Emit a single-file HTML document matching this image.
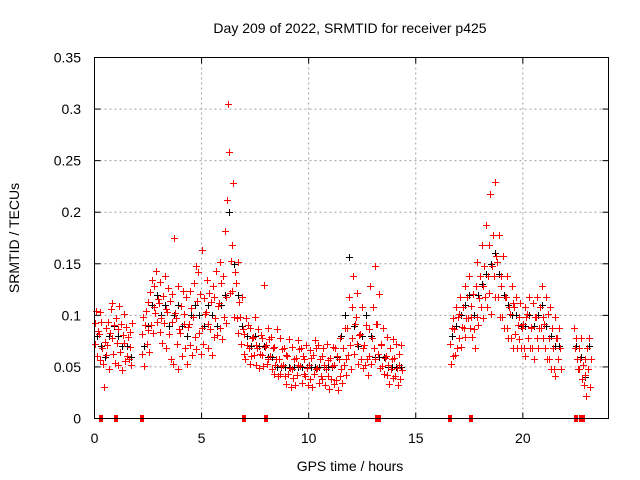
<!DOCTYPE html>
<html><head><meta charset="utf-8"><style>
html,body{margin:0;padding:0;background:#fff;}
svg{display:block;font-family:"Liberation Sans",sans-serif;}
</style></head><body>
<svg id="chart" width="640" height="480">
<rect width="640" height="480" fill="#fff"/>
<text x="350" y="33" font-size="14" text-anchor="middle">Day 209 of 2022, SRMTID for receiver p425</text>
<text x="0" y="0" font-size="14" text-anchor="middle" transform="translate(19,238) rotate(-90)">SRMTID / TECUs</text>
<text x="350" y="471" font-size="14" text-anchor="middle">GPS time / hours</text>
<g id="grid"></g><g id="ticks"></g><g id="marks"></g>
<rect x="94.5" y="57.5" width="514" height="361" fill="none" stroke="#000" stroke-width="1"/>
</svg>
<script>
const xTicks=[0,5,10,15,20];
const yTicks=[0,0.05,0.1,0.15,0.2,0.25,0.3,0.35];
const yTickLabels=["0","0.05","0.1","0.15","0.2","0.25","0.3","0.35"];
const hours=[0,0.2,0.4,0.6,0.8,1.0,1.2,1.4,1.6,
2.2,2.4,2.6,2.8,3.0,3.2,3.4,3.6,3.8,4.0,4.2,4.4,4.6,4.8,5.0,5.2,5.4,5.6,5.8,6.0,6.2,6.4,6.6,6.8,7.0,7.2,7.4,7.6,7.8,8.0,8.2,8.4,8.6,8.8,9.0,9.2,9.4,9.6,9.8,10.0,10.2,10.4,10.6,10.8,11.0,11.2,11.4,11.6,11.8,12.0,12.2,12.4,12.6,12.8,13.0,13.2,13.4,13.6,13.8,14.0,14.2,
16.6,16.8,17.0,17.2,17.4,17.6,17.8,18.0,18.2,18.4,18.6,18.8,19.0,19.2,19.4,19.6,19.8,20.0,20.2,20.4,20.6,20.8,21.0,21.2,21.4,21.6,
22.4,22.6,22.8,23.0];
const redValues=[
[.093,.072,.104,.061,.085],[.082,.103,.057,.094,.068],[.053,.031,.074,.088,.062],[.071,.094,.048,.083,.106],[.078,.112,.063,.091,.054],[.097,.073,.052,.087,.109],[.064,.092,.047,.081,.101],[.073,.056,.089,.061,.079],[.058,.084,.069,.052,.093],
[.082,.063,.098,.051,.091],[.104,.072,.113,.086,.064],[.123,.091,.134,.083,.108],[.128,.102,.143,.094,.116],[.112,.084,.132,.097,.073],[.119,.093,.138,.068,.106],[.103,.127,.082,.114,.058],[.094,.121,.053,.175,.102],[.097,.072,.128,.048,.087],[.083,.109,.061,.124,.092],
[.101,.068,.118,.053,.089],[.092,.124,.071,.107,.062],[.098,.131,.079,.148,.067],[.114,.142,.083,.121,.063],[.088,.163,.072,.117,.101],[.103,.134,.068,.092,.122],[.087,.113,.062,.128,.079],[.118,.097,.143,.081,.109],[.112,.152,.088,.131,.077],[.138,.098,.182,.118,.093],
[.212,.305,.258,.122,.153],[.168,.124,.228,.098,.142],[.131,.097,.152,.083,.113],[.098,.072,.118,.087,.063],[.082,.058,.097,.071,.091],[.068,.053,.088,.061,.078],[.079,.062,.098,.052,.071],[.068,.087,.049,.063,.081],[.062,.078,.051,.129,.069],[.071,.053,.088,.058,.077],
[.061,.079,.048,.068,.043],[.069,.052,.058,.087,.041],[.058,.043,.078,.051,.067],[.052,.068,.041,.062,.033],[.061,.043,.077,.049,.031],[.048,.069,.039,.058,.032],[.059,.042,.076,.052,.067],[.051,.068,.034,.061,.043],[.058,.041,.071,.049,.032],[.052,.066,.038,.059,.031],
[.062,.043,.076,.048,.068],[.049,.071,.034,.058,.041],[.061,.038,.068,.052,.032],[.048,.072,.041,.057,.029],[.059,.038,.051,.069,.033],[.052,.068,.037,.061,.028],[.058,.041,.078,.048,.034],[.068,.052,.088,.058,.042],[.088,.062,.118,.071,.048],[.108,.078,.138,.063,.092],
[.098,.072,.122,.053,.081],[.082,.058,.108,.049,.068],[.071,.052,.091,.058,.042],[.087,.061,.128,.053,.078],[.108,.068,.148,.058,.092],[.092,.063,.121,.049,.071],[.072,.051,.088,.043,.059],[.061,.042,.079,.052,.033],[.068,.048,.058,.039,.077],[.059,.041,.072,.049,.032],[.052,.063,.038,.071,.047],
[.072,.053,.088,.061,.097],[.087,.062,.108,.068,.098],[.101,.078,.118,.069,.089],[.108,.088,.128,.079,.097],[.118,.097,.138,.088,.109],[.098,.079,.121,.087,.068],[.128,.098,.152,.091,.117],[.138,.108,.168,.097,.128],[.148,.118,.188,.108,.138],[.168,.122,.218,.101,.148],
[.178,.138,.229,.118,.158],[.152,.118,.178,.098,.138],[.128,.098,.158,.088,.118],[.118,.088,.138,.078,.108],[.101,.078,.128,.068,.112],[.108,.082,.118,.068,.091],[.098,.077,.112,.068,.088],[.092,.068,.108,.061,.098],[.101,.078,.118,.068,.089],[.088,.068,.112,.058,.098],
[.098,.078,.118,.068,.088],[.108,.088,.128,.078,.098],[.092,.068,.118,.058,.101],[.078,.058,.108,.048,.088],[.068,.048,.098,.041,.078],[.078,.058,.088,.068,.048],
[.088,.068,.078,.058,.048],[.068,.048,.058,.078,.038],[.052,.032,.042,.058,.022],[.068,.048,.078,.031,.058]];
const blackValues=[.08,.07,.06,.08,.09,.08,.07,.07,.06,
.07,.09,.11,.12,.10,.11,.09,.10,.11,.09,
.08,.10,.11,.10,.09,.11,.10,.09,.11,.12,
.20,.15,.12,.09,.08,.07,.08,.07,.07,.06,
.06,.05,.05,.05,.05,.05,.05,.05,.05,.05,
.05,.05,.05,.05,.05,.06,.08,.10,.157,.09,
.07,.08,.10,.08,.06,.06,.06,.05,.05,.05,.05,
.08,.09,.10,.11,.12,.10,.12,.13,.14,.15,
.16,.14,.12,.11,.10,.10,.09,.09,.10,.09,
.10,.11,.09,.08,.07,.07,
.07,.06,.04,.07];
const zeroMarks=[0.3,1.0,2.2,7.0,8.0,13.2,13.3,16.6,17.6,22.5,22.7,22.8];

const NS="http://www.w3.org/2000/svg";
const X0=94.5,X1=608.5,Y0=418.5,Y1=57.5;
function sx(h){return X0+(h/24)*(X1-X0);}
function sy(v){return Y0-(v/0.35)*(Y0-Y1);}
function mk(tag,attrs,parent){const e=document.createElementNS(NS,tag);for(const k in attrs)e.setAttribute(k,attrs[k]);parent.appendChild(e);return e;}
const grid=document.getElementById('grid'),ticks=document.getElementById('ticks'),marks=document.getElementById('marks');
xTicks.forEach(t=>{
  const x=sx(t);
  if(t>0){const g=mk('line',{x1:x,x2:x,y1:Y1,y2:Y0,stroke:'#a0a0a0','stroke-dasharray':'2,3'},grid);
  
  }
  mk('line',{x1:x,x2:x,y1:Y0,y2:Y0-6,stroke:'#000'},ticks);
  mk('line',{x1:x,x2:x,y1:Y1,y2:Y1+6,stroke:'#000'},ticks);
  const l=mk('text',{x:x,y:443,'font-size':14,'text-anchor':'middle',fill:'#000'},ticks);
  l.textContent=String(t);
  
  
});
yTicks.forEach((t,i)=>{
  const y=sy(t);
  if(i>0&&i<yTicks.length-1){const g=mk('line',{x1:X0,x2:X1,y1:y,y2:y,stroke:'#a0a0a0','stroke-dasharray':'2,3'},grid);
  
  }
  mk('line',{x1:X0,x2:X0+6,y1:y,y2:y,stroke:'#000'},ticks);
  mk('line',{x1:X1,x2:X1-6,y1:y,y2:y,stroke:'#000'},ticks);
  const l=mk('text',{x:81,y:y+5,'font-size':14,'text-anchor':'end',fill:'#000'},ticks);
  l.textContent=yTickLabels[i];
  
  
});
function plus(h,v,color){
  const x=Math.round(sx(h))+0.5,y=Math.round(sy(v))+0.5;
  return mk('path',{d:`M${x-3.5},${y}H${x+3.5}M${x},${y-3.5}V${y+3.5}`,stroke:color,'stroke-width':1,fill:'none'},marks);
}
blackValues.forEach((v,i)=>{
  const p=plus(hours[i]+0.1,v,'#000');
  
  
});
const offs=[0,0.04,0.08,0.12,0.16];
redValues.forEach((row,i)=>{
  row.forEach((v,k)=>{
    const p=plus(hours[i]+offs[k],v,'#ff0000');
    
    
  });
});
zeroMarks.forEach(h=>{
  const r=mk('rect',{x:Math.round(sx(h))-2,y:Y0-3.5,width:4,height:7,fill:'#ff0000'},marks);
  
  
});
</script>
</body></html>
